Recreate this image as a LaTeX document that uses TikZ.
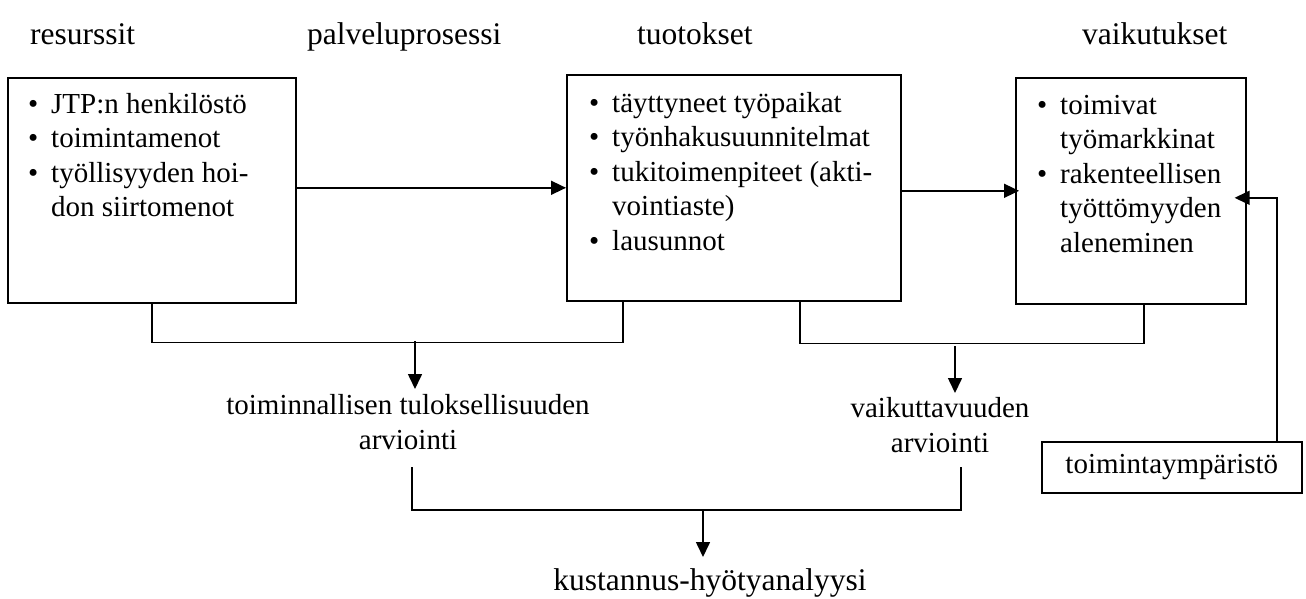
\documentclass[tikz,border=0pt]{standalone}
\usepackage{fontspec}
\setmainfont{Liberation Serif}
\usetikzlibrary{arrows.meta}
\newcommand{\bitm}[1]{\makebox[23pt][l]{\textbullet}#1}
\newcommand{\cont}[1]{\hspace*{23pt}#1}
\begin{document}
\begin{tikzpicture}[x=1pt,y=-1pt,
  lbl/.style={font=\fontsize{29}{34.5}\selectfont, inner sep=0pt},
  ttl/.style={font=\fontsize{31.5}{37}\selectfont, inner sep=0pt},
  box/.style={draw, line width=1.6pt, inner sep=0pt, anchor=north west},
  conn/.style={line width=1.6pt},
  arr/.style={conn, -{Triangle[length=15pt,width=14pt]}}]
\useasboundingbox (0,0) rectangle (1306,598);
% titles
\node[ttl, anchor=base west] (h1) at (30,44) {resurssit};
\node[ttl, anchor=base west] (h2) at (307,44) {palveluprosessi};
\node[ttl, anchor=base west] (h3) at (637,44) {tuotokset};
\node[ttl, anchor=base west] (h4) at (1082,44) {vaikutukset};
% boxes
\node[box, minimum width=288pt, minimum height=225pt] (b1) at (7,77) {};
\node[box, minimum width=334pt, minimum height=226pt] (b2) at (566,74) {};
\node[box, minimum width=230pt, minimum height=226pt] (b3) at (1015,77) {};
\node[box, minimum width=260pt, minimum height=51pt, lbl, draw] (b4) at (1041,441) {toimintaympäristö};
% box contents
\node[lbl, anchor=base west] (t1) at (28,113) {\parbox[t]{270pt}{\bitm{JTP:n henkilöstö}\\\bitm{toimintamenot}\\\bitm{työllisyyden hoi-}\\\cont{don siirtomenot}}};
\node[lbl, anchor=base west] (t2) at (589,112) {\parbox[t]{310pt}{\bitm{täyttyneet työpaikat}\\\bitm{työnhakusuunnitelmat}\\\bitm{tukitoimenpiteet (akti-}\\\cont{vointiaste)}\\\bitm{lausunnot}}};
\node[lbl, anchor=base west] (t3) at (1037,114) {\parbox[t]{210pt}{\bitm{toimivat}\\\cont{työmarkkinat}\\\bitm{rakenteellisen}\\\cont{työttömyyden}\\\cont{aleneminen}}};
% evaluation labels (base = last line)
\node[lbl, anchor=base, align=center] (e1) at (408,449) {toiminnallisen tuloksellisuuden\\arviointi};
\node[lbl, anchor=base, align=center] (e2) at (940,452) {vaikuttavuuden\\arviointi};
\node[ttl, anchor=base] (e3) at (710,590) {kustannus-hyötyanalyysi};
% coordinates
\coordinate (j1) at (415,341);
\coordinate (a1) at (415,389);
\coordinate (j2) at (955,346);
\coordinate (a2) at (955,393);
\coordinate (l3) at (412,467);
\coordinate (r3) at (961,467);
\coordinate (j3) at (703,510);
\coordinate (a3) at (703,557);
% horizontal arrows
\draw[arr] ([yshift=2.5pt]b1.east) -- (b2.west);
\draw[arr] ([yshift=-3pt]b2.east) -- ([xshift=4pt]b3.west);
\draw[arr] (b4.north -| 1277,0) |- ([xshift=-12pt,yshift=-7pt]b3.east);
% brackets
\draw[conn] ([xshift=145pt]b1.south west) -- ++(0,39) -| ([xshift=57pt]b2.south west);
\draw[arr] (j1) -- (a1);
\draw[conn] ([xshift=234pt]b2.south west) -- ++(0,42) -| ([xshift=129pt]b3.south west);
\draw[arr] (j2) -- (a2);
\draw[conn] (l3) -- (l3 |- j3) -- (r3 |- j3) -- (r3);
\draw[arr] (j3) -- (a3);
\end{tikzpicture}
\end{document}
